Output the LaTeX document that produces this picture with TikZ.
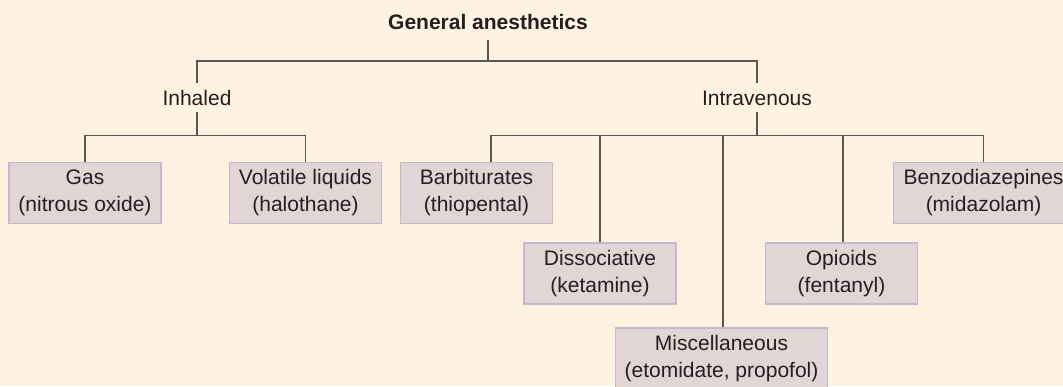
\documentclass[tikz,border=0pt]{standalone}
\usepackage{fontspec}
\setmainfont{Liberation Sans}
\definecolor{bgc}{RGB}{255,242,225}
\definecolor{boxfill}{RGB}{225,213,214}
\definecolor{boxline}{RGB}{199,182,211}
\definecolor{linec}{RGB}{90,85,82}
\definecolor{textc}{RGB}{35,31,32}
\begin{document}
\begin{tikzpicture}[x=1pt,y=-1pt,
  every node/.style={text=textc},
  titlelabel/.style={font=\bfseries\fontsize{21}{24}\selectfont, inner sep=0pt, text height=22pt, text depth=10pt},
  grouplabel/.style={font=\fontsize{21}{24}\selectfont, inner sep=0pt, text height=22pt, text depth=6pt},
  drugbox/.style={draw=boxline, fill=boxfill, line width=1.3pt, minimum width=152pt, minimum height=61pt, inner sep=0pt, align=center, font=\fontsize{21}{27}\selectfont},
  conn/.style={draw=linec, line width=1.5pt}]
\fill[bgc] (0,0) rectangle (1063,386);
\clip (0,0) rectangle (1063,386);
\node[titlelabel] (t) at (488,23.3) {General anesthetics};
\node[grouplabel] (inh) at (197,97.3) {Inhaled};
\node[grouplabel] (iv) at (757,97.3) {Intravenous};
\node[drugbox] (gas) at (85,193) {Gas\\(nitrous oxide)};
\node[drugbox] (vol) at (305.5,193) {Volatile liquids\\(halothane)};
\node[drugbox] (barb) at (476.5,193) {Barbiturates\\(thiopental)};
\node[drugbox, minimum width=180pt] (benzo) at (983.5,193) {Benzodiazepines\\(midazolam)};
\node[drugbox] (dis) at (600,273.5) {Dissociative\\(ketamine)};
\node[drugbox] (opi) at (841.5,273.5) {Opioids\\(fentanyl)};
\node[drugbox, minimum width=212pt] (misc) at (721.5,358.5) {Miscellaneous\\(etomidate, propofol)};
\draw[conn] (t.south) -- (t.south |- 0,61);
\draw[conn] (inh.north) |- (t.south |- 0,61) -| (iv.north);
\draw[conn] (inh.south) -- (inh.south |- 0,135.5);
\draw[conn] (gas.north) |- (inh.south |- 0,135.5) -| (vol.north);
\draw[conn] (iv.south) -- (iv.south |- 0,135.5);
\draw[conn] ([xshift=14.5pt]barb.north) |- (iv.south |- 0,135.5) -| (benzo.north);
\draw[conn] (dis.north) -- (dis.north |- 0,135.5);
\draw[conn] ([xshift=1.5pt]misc.north) -- ([xshift=1.5pt]misc.north |- 0,135.5);
\draw[conn] ([xshift=1.5pt]opi.north) -- ([xshift=1.5pt]opi.north |- 0,135.5);
\end{tikzpicture}
\end{document}
